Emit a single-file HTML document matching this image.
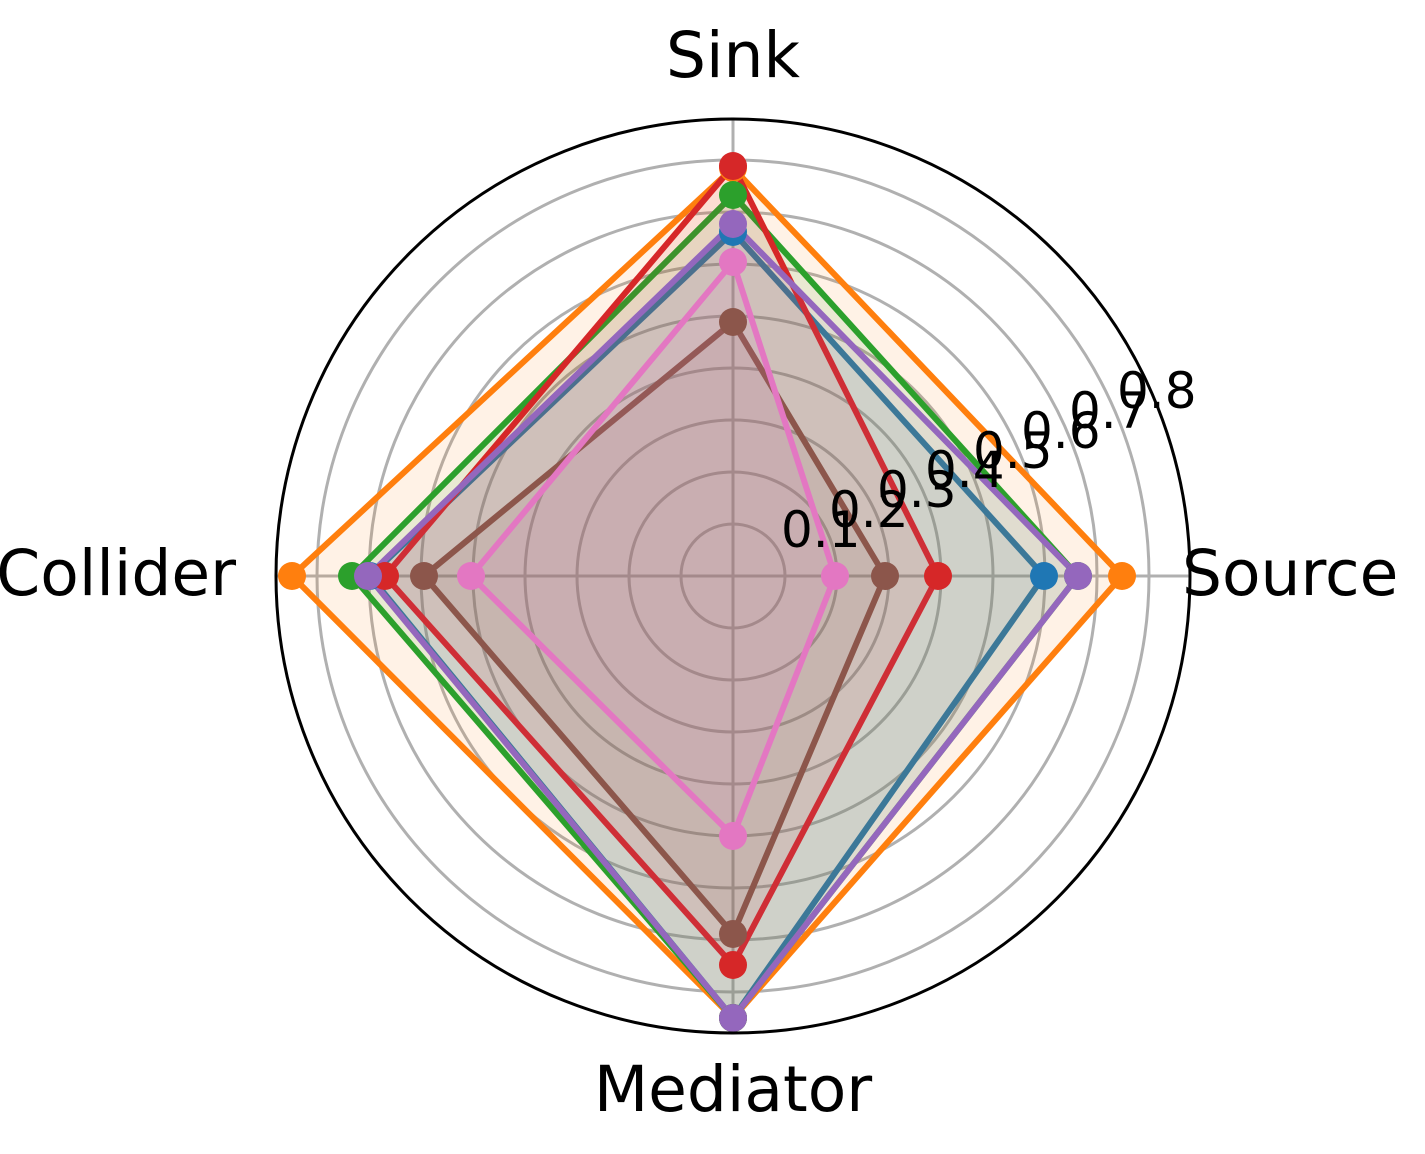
<!DOCTYPE html>
<html><head><meta charset="utf-8"><style>
html,body{margin:0;padding:0;background:#fff;}
svg{display:block;}
text{font-family:"DejaVu Sans","Liberation Sans",sans-serif;fill:#000;}
</style></head><body>
<svg width="1425" height="1154" viewBox="0 0 1425 1154" xmlns="http://www.w3.org/2000/svg">
<g fill="none" stroke="#b0b0b0" stroke-width="3">
<circle cx="733" cy="576" r="52"/><circle cx="733" cy="576" r="104"/><circle cx="733" cy="576" r="156"/><circle cx="733" cy="576" r="208"/>
<circle cx="733" cy="576" r="260"/><circle cx="733" cy="576" r="312"/><circle cx="733" cy="576" r="364"/><circle cx="733" cy="576" r="416"/>
<line x1="733" y1="119" x2="733" y2="1033"/><line x1="276" y1="576" x2="1190" y2="576"/>
</g>
<g stroke-width="6" stroke-linejoin="round">
<polygon points="1044,576 733,232 370,576 733,1018" fill="#1f77b4" fill-opacity="0.1" stroke="#1f77b4"/>
<polygon points="1122,576 733,168 292,576 733,1018" fill="#ff7f0e" fill-opacity="0.1" stroke="#ff7f0e"/>
<polygon points="1078,576 733,195 352,576 733,1018" fill="#2ca02c" fill-opacity="0.1" stroke="#2ca02c"/>
<polygon points="938,576 733,166 385,576 733,965" fill="#d62728" fill-opacity="0.1" stroke="#d62728"/>
<polygon points="1078,576 733,224 368,576 733,1018" fill="#9467bd" fill-opacity="0.1" stroke="#9467bd"/>
<polygon points="885,576 733,322 424,576 733,934" fill="#8c564b" fill-opacity="0.1" stroke="#8c564b"/>
<polygon points="835,576 733,262 471,576 733,836" fill="#e377c2" fill-opacity="0.1" stroke="#e377c2"/>
</g>
<g>
<g fill="#1f77b4"><circle cx="1044" cy="576" r="14"/><circle cx="733" cy="232" r="14"/><circle cx="370" cy="576" r="14"/><circle cx="733" cy="1018" r="14"/></g>
<g fill="#ff7f0e"><circle cx="1122" cy="576" r="14"/><circle cx="733" cy="168" r="14"/><circle cx="292" cy="576" r="14"/><circle cx="733" cy="1018" r="14"/></g>
<g fill="#2ca02c"><circle cx="1078" cy="576" r="14"/><circle cx="733" cy="195" r="14"/><circle cx="352" cy="576" r="14"/><circle cx="733" cy="1018" r="14"/></g>
<g fill="#d62728"><circle cx="938" cy="576" r="14"/><circle cx="733" cy="166" r="14"/><circle cx="385" cy="576" r="14"/><circle cx="733" cy="965" r="14"/></g>
<g fill="#9467bd"><circle cx="1078" cy="576" r="14"/><circle cx="733" cy="224" r="14"/><circle cx="368" cy="576" r="14"/><circle cx="733" cy="1018" r="14"/></g>
<g fill="#8c564b"><circle cx="885" cy="576" r="14"/><circle cx="733" cy="322" r="14"/><circle cx="424" cy="576" r="14"/><circle cx="733" cy="934" r="14"/></g>
<g fill="#e377c2"><circle cx="835" cy="576" r="14"/><circle cx="733" cy="262" r="14"/><circle cx="471" cy="576" r="14"/><circle cx="733" cy="836" r="14"/></g>
</g>
<g font-size="50">
<text x="781" y="547">0.1</text><text x="829" y="527">0.2</text><text x="877" y="507">0.3</text><text x="925" y="487">0.4</text>
<text x="973" y="468">0.5</text><text x="1021" y="448">0.6</text><text x="1069" y="428">0.7</text><text x="1117" y="408">0.8</text>
</g>
<circle cx="733" cy="576" r="457" fill="none" stroke="#000" stroke-width="3"/>
<g font-size="63">
<text x="733" y="77" text-anchor="middle">Sink</text>
<text x="1182" y="595">Source</text>
<text x="236" y="595" text-anchor="end">Collider</text>
<text x="733" y="1111" text-anchor="middle">Mediator</text>
</g>
</svg>
</body></html>
